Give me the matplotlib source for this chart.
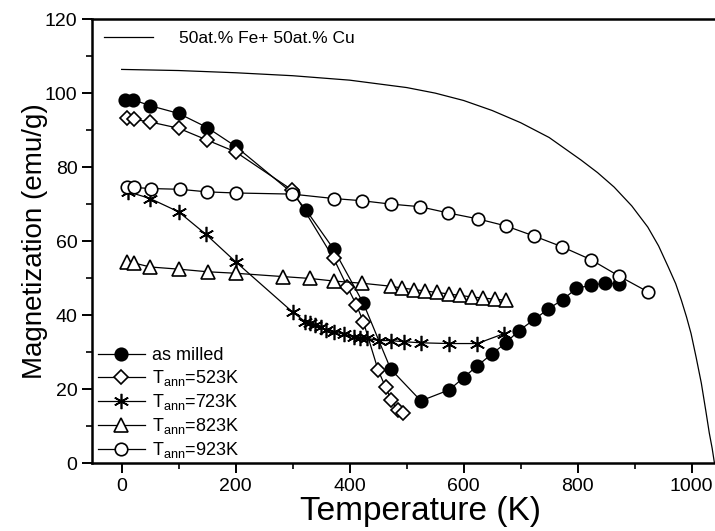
import matplotlib
matplotlib.use("Agg")
import matplotlib.pyplot as plt
from matplotlib.ticker import MultipleLocator

plt.rcParams['font.family'] = ['Liberation Sans', 'DejaVu Sans']
plt.rcParams['mathtext.fontset'] = 'custom'
plt.rcParams['mathtext.rm'] = 'Liberation Sans'

# Reference bulk alloy curve
T_ref = [0, 100, 200, 300, 400, 500, 550, 600, 650, 700, 750, 806, 835, 864, 895, 923, 942, 959, 972, 982, 991, 999, 1008, 1017, 1025, 1031, 1036, 1040]
M_ref = [106.4, 106.1, 105.5, 104.7, 103.5, 101.5, 100.0, 98.0, 95.3, 92.0, 88.0, 81.9, 78.5, 74.6, 69.5, 63.8, 58.7, 53.0, 48.5, 44.0, 39.5, 35.0, 28.5, 21.6, 14.0, 8.1, 4.0, 0.0]

# as milled
T_am = [5, 20, 50, 100, 150, 200, 300, 323, 372, 424, 472, 525, 575, 600, 624, 649, 674, 697, 724, 748, 774, 798, 823, 848, 873]
M_am = [98.2, 98.2, 96.6, 94.5, 90.7, 85.6, 72.9, 68.5, 57.8, 43.2, 25.4, 16.8, 19.8, 23.1, 26.3, 29.4, 32.5, 35.8, 38.8, 41.6, 44.2, 47.2, 48.1, 48.6, 48.4]

# T_ann = 523 K
T_523 = [9, 21, 50, 100, 150, 200, 299, 372, 396, 412, 424, 450, 463, 473, 484, 494]
M_523 = [93.2, 92.9, 92.2, 90.5, 87.3, 84.1, 73.8, 55.3, 47.6, 42.7, 38.2, 25.1, 20.5, 17.0, 14.3, 13.4]

# T_ann = 723 K
T_723 = [12, 50, 100, 148, 200, 300, 322, 331, 340, 349, 358, 372, 390, 407, 419, 431, 451, 472, 495, 525, 574, 624, 671]
M_723 = [73.3, 71.5, 67.9, 61.8, 54.4, 40.8, 38.2, 37.8, 37.3, 36.8, 35.9, 35.5, 34.8, 34.1, 33.7, 33.7, 33.1, 33.1, 32.8, 32.5, 32.3, 32.3, 35.0]

# T_ann = 823 K
T_823 = [9, 21, 50, 101, 151, 200, 283, 330, 372, 422, 472, 492, 513, 533, 554, 574, 594, 614, 634, 655, 674]
M_823 = [54.4, 54.1, 53.0, 52.4, 51.7, 51.3, 50.4, 49.9, 49.2, 48.6, 47.8, 47.3, 46.9, 46.5, 46.1, 45.7, 45.3, 44.9, 44.6, 44.3, 44.0]

# T_ann = 923 K
T_923 = [9, 21, 51, 102, 150, 200, 299, 372, 422, 472, 523, 573, 625, 674, 723, 772, 823, 873, 923]
M_923 = [74.7, 74.5, 74.2, 74.0, 73.3, 73.0, 72.7, 71.5, 70.9, 70.0, 69.3, 67.6, 66.0, 64.1, 61.4, 58.5, 55.0, 50.5, 46.3]

fig = plt.figure(figsize=(7.15, 5.31), dpi=100)
ax = fig.add_axes([0.1287, 0.128, 0.8713, 0.836])

ref_line, = ax.plot(T_ref, M_ref, color='black', lw=0.9)

mew = 1.2
kw = dict(color='black', lw=0.9, markeredgecolor='black', markeredgewidth=mew)
h_am, = ax.plot(T_am, M_am, marker='o', markerfacecolor='black', markersize=9, **kw)
h_523, = ax.plot(T_523, M_523, marker='D', markerfacecolor='white', markersize=7, **kw)
h_723, = ax.plot(T_723, M_723, marker=(6, 2, 0), markerfacecolor='black', markersize=11, **kw)
h_823, = ax.plot(T_823, M_823, marker='^', markerfacecolor='white', markersize=10, **kw)
h_923, = ax.plot(T_923, M_923, marker='o', markerfacecolor='white', markersize=9, **kw)

ax.set_xlim(-52, 1041)
ax.set_ylim(0, 120)
ax.xaxis.set_major_locator(MultipleLocator(200))
ax.xaxis.set_minor_locator(MultipleLocator(100))
ax.yaxis.set_major_locator(MultipleLocator(20))
ax.yaxis.set_minor_locator(MultipleLocator(10))
ax.tick_params(which='major', direction='out', length=7, width=1.4, labelsize=14)
ax.tick_params(which='minor', direction='out', length=4, width=1.2)
ax.spines['right'].set_visible(False)
for s in ['left', 'bottom', 'top']:
    ax.spines[s].set_linewidth(1.8)

ax.set_xlabel('Temperature (K)', fontsize=24)
ax.xaxis.set_label_coords(0.527, -0.075)
ax.set_ylabel('Magnetization (emu/g)', fontsize=20, labelpad=-2)

leg1 = ax.legend([ref_line], ['50at.% Fe+ 50at.% Cu'], loc='upper left', frameon=False,
                 fontsize=12.5, handlelength=2.8, handletextpad=1.5,
                 bbox_to_anchor=(0.0, 1.0), borderaxespad=0.3)
ax.add_artist(leg1)
ax.legend([h_am, h_523, h_723, h_823, h_923],
          ['as milled', r'T$_{\rm ann}$=523K', r'T$_{\rm ann}$=723K',
           r'T$_{\rm ann}$=823K', r'T$_{\rm ann}$=923K'],
          loc='lower left', frameon=False, fontsize=13, numpoints=1,
          handlelength=2.6, handletextpad=0.4, labelspacing=0.22,
          bbox_to_anchor=(0.005, 0.0), borderaxespad=0.0, borderpad=0.15)

fig.savefig('out.png', dpi=100)
